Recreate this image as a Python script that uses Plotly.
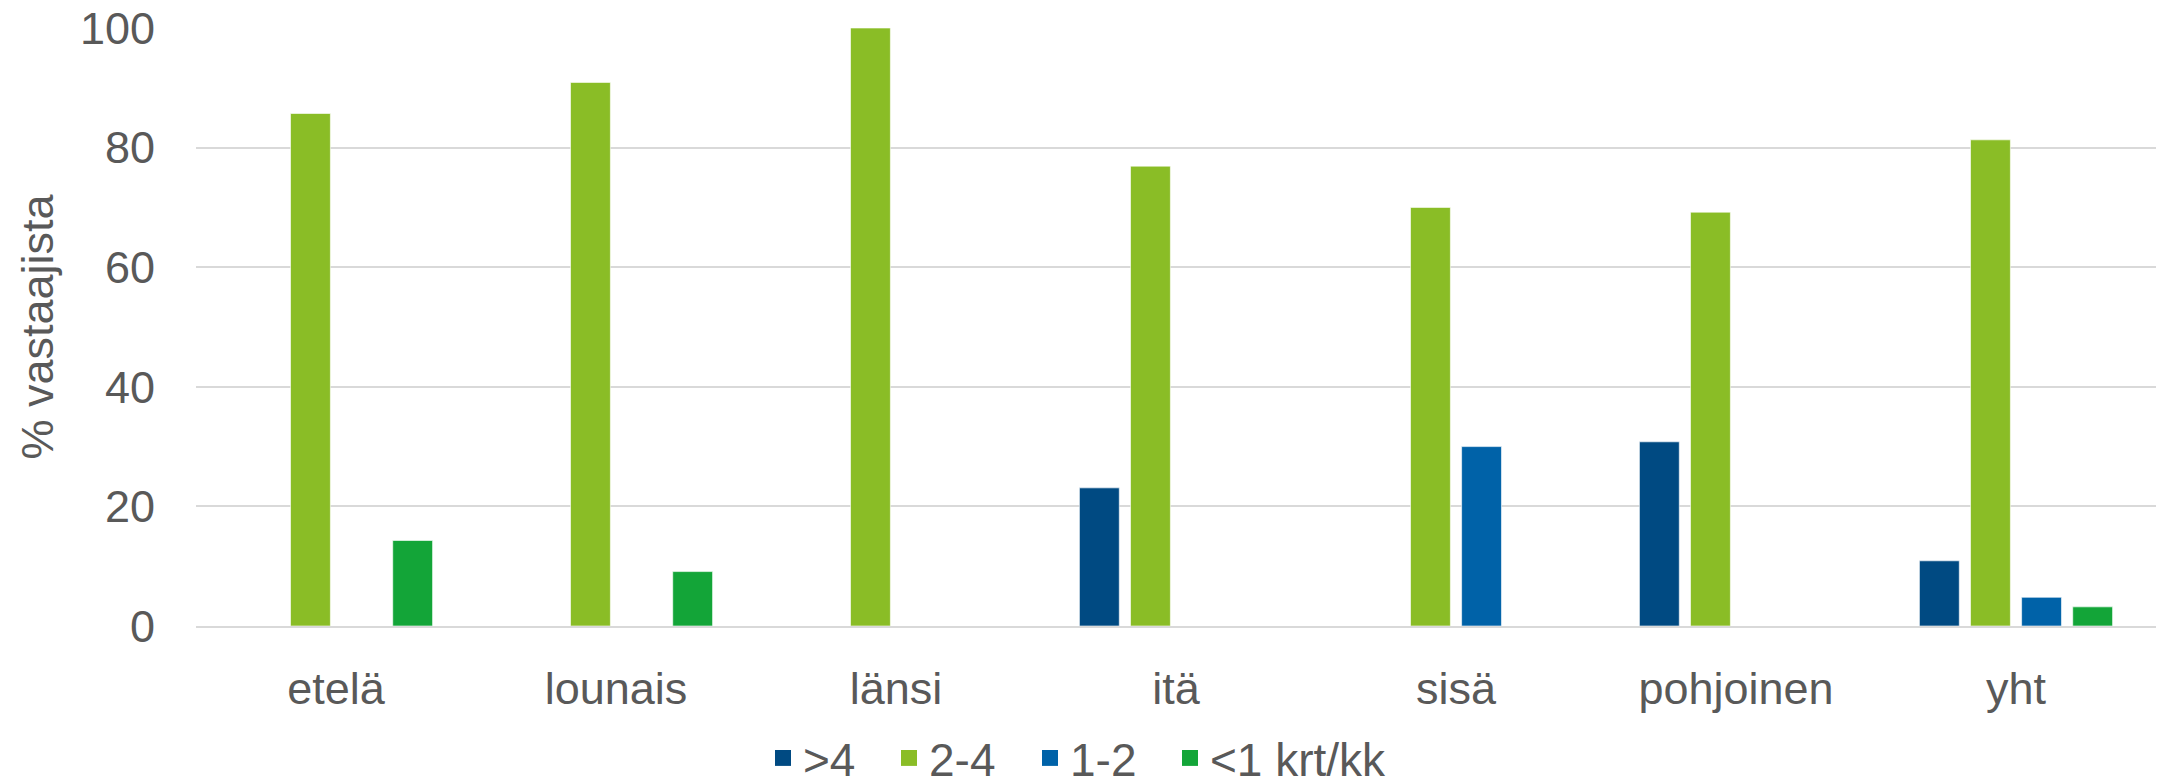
import plotly.graph_objects as go

categories = ["etelä", "lounais", "länsi", "itä", "sisä", "pohjoinen", "yht"]
series_names = [">4", "2-4", "1-2", "<1 krt/kk"]
vals_gt4 = [None, None, None, 23.1, None, 30.8, 10.9]
vals_2_4 = [85.7, 90.9, 100.0, 76.9, 70.0, 69.2, 81.3]
vals_1_2 = [None, None, None, None, 30.0, None, 4.8]
vals_lt1 = [14.3, 9.1, None, None, None, None, 3.2]
colors = ["#004A82", "#8ABD26", "#0062A8", "#13A538"]

y_ticks = [0, 20, 40, 60, 80, 100]

fig = go.Figure()
for name, vals, col in zip(series_names, [vals_gt4, vals_2_4, vals_1_2, vals_lt1], colors):
    fig.add_trace(go.Bar(
        name=name, x=categories, y=vals, showlegend=False,
        marker=dict(color=col, line=dict(color="rgba(255,255,255,0.6)", width=1)),
    ))

font_color = "#595959"
W, H = 2168, 781
legend_ids = ["legend", "legend2", "legend3", "legend4"]
legend_left = [763, 889, 1030, 1170]

# legend entries with larger square symbols, one small legend per entry
for name, col, lid in zip(series_names, colors, legend_ids):
    fig.add_trace(go.Scatter(
        name=name, x=[None], y=[None], mode="markers", legend=lid,
        marker=dict(symbol="square", size=24, color=col),
    ))

layout_legends = {}
for lid, lx in zip(legend_ids, legend_left):
    layout_legends[lid] = dict(
        orientation="h", xref="container", yref="container",
        x=lx / W, xanchor="left", y=1 - 758 / H, yanchor="middle",
        bgcolor="rgba(0,0,0,0)",
        font=dict(size=46, color=font_color))

fig.update_layout(
    width=W, height=H,
    margin=dict(l=196, r=12, t=28, b=155),
    paper_bgcolor="white", plot_bgcolor="white",
    font=dict(family="Liberation Sans, Arial, sans-serif", size=45, color=font_color),
    barmode="group", bargap=0.27, bargroupgap=0.22,
    showlegend=True,
    xaxis=dict(showgrid=False, showline=True, linecolor="#D9D9D9", linewidth=2,
               automargin=False,
               ticks="", ticklabelstandoff=22, tickfont=dict(size=45, color=font_color)),
    yaxis=dict(range=[0, 100], tickvals=y_ticks, showgrid=True, gridcolor="#D9D9D9",
               gridwidth=2, zeroline=False, showline=False, ticks="", automargin=False,
               ticklabeloverflow="allow",
               ticklabelstandoff=40, tickfont=dict(size=45, color=font_color),
               title=dict(text="% vastaajista", standoff=12,
                          font=dict(size=45, color=font_color))),
    **layout_legends,
)

fig.write_html("out.html", config={"displayModeBar": False},
               post_script="document.body.style.margin='0';")
